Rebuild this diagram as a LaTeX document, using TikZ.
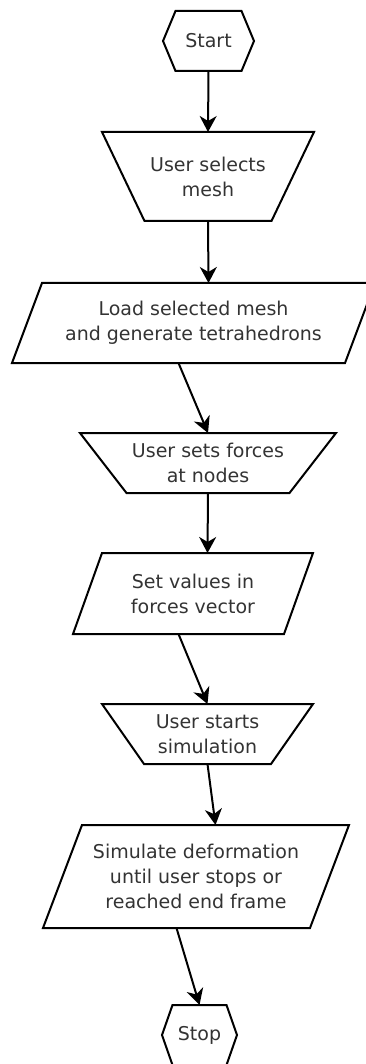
\documentclass[tikz,border=0pt]{standalone}
\usepackage{fontspec}
\setmainfont{DejaVu Sans}
\usepackage{tikz}
\usetikzlibrary{arrows.meta}
\definecolor{labelgray}{RGB}{51,51,51}

\tikzset{
  stepbox/.style={text=labelgray, align=center, inner sep=2pt, outer sep=0pt,
    font=\fontsize{19}{25}\selectfont},
  border/.style={line width=2pt, line join=miter},
  flow/.style={-{Stealth[length=16pt,width=17pt,inset=5pt]}, line width=2pt}
}

\begin{document}
\begin{tikzpicture}[x=1pt, y=1pt]
    \useasboundingbox (0,0) rectangle (365,-1064);
    % steps
    \node[stepbox, minimum width=91pt, minimum height=60pt] (start) at (208.5,-41) {Start};
    \draw[border] ([xshift=12.5pt]start.north west) -- ([xshift=-12.5pt]start.north east)
      -- (start.east) -- ([xshift=-12.5pt]start.south east) -- ([xshift=12.5pt]start.south west)
      -- (start.west) -- cycle;

    \node[stepbox, minimum width=212pt, minimum height=89pt] (select) at (208,-176.5) {User selects\\mesh};
    \draw[border] (select.north west) -- (select.north east)
      -- ([xshift=-42.5pt]select.south east) -- ([xshift=42.5pt]select.south west) -- cycle;

    \node[stepbox, minimum width=363pt, minimum height=80pt] (load) at (193.5,-323) {Load selected mesh\\and generate tetrahedrons};
    \draw[border] ([xshift=30pt]load.north west) -- (load.north east)
      -- ([xshift=-30pt]load.south east) -- (load.south west) -- cycle;

    \node[stepbox, minimum width=256pt, minimum height=60pt] (forces) at (208,-463) {User sets forces\\at nodes};
    \draw[border] (forces.north west) -- (forces.north east)
      -- ([xshift=-46.5pt]forces.south east) -- ([xshift=46.5pt]forces.south west) -- cycle;

    \node[stepbox, minimum width=240pt, minimum height=81pt] (values) at (193,-593.5) {Set values in\\forces vector};
    \draw[border] ([xshift=29pt]values.north west) -- (values.north east)
      -- ([xshift=-29pt]values.south east) -- (values.south west) -- cycle;

    \node[stepbox, minimum width=211pt, minimum height=60pt] (begin) at (207.5,-734) {User starts\\simulation};
    \draw[border] (begin.north west) -- (begin.north east)
      -- ([xshift=-42pt]begin.south east) -- ([xshift=42pt]begin.south west) -- cycle;

    \node[stepbox, minimum width=306pt, minimum height=103pt] (simulate) at (196,-876.5) {Simulate deformation\\until user stops or\\reached end frame};
    \draw[border] ([xshift=39pt]simulate.north west) -- (simulate.north east)
      -- ([xshift=-39pt]simulate.south east) -- (simulate.south west) -- cycle;

    \node[stepbox, minimum width=75pt, minimum height=60pt] (stop) at (199.5,-1035) {Stop};
    \draw[border] ([xshift=10.5pt]stop.north west) -- ([xshift=-10.5pt]stop.north east)
      -- (stop.east) -- ([xshift=-10.5pt]stop.south east) -- ([xshift=10.5pt]stop.south west)
      -- (stop.west) -- cycle;

    % connectors
    \draw[flow] (start.south) -- (select.north);
    \draw[flow] (select.south) -- ([xshift=15pt]load.north);
    \draw[flow] ([xshift=-15pt]load.south) -- (forces.north);
    \draw[flow] (forces.south) -- ([xshift=14.5pt]values.north);
    \draw[flow] ([xshift=-14.5pt]values.south) -- (begin.north);
    \draw[flow] (begin.south) -- ([xshift=19.5pt]simulate.north);
    \draw[flow] ([xshift=-19.5pt]simulate.south) -- (stop.north);
\end{tikzpicture}
\end{document}
